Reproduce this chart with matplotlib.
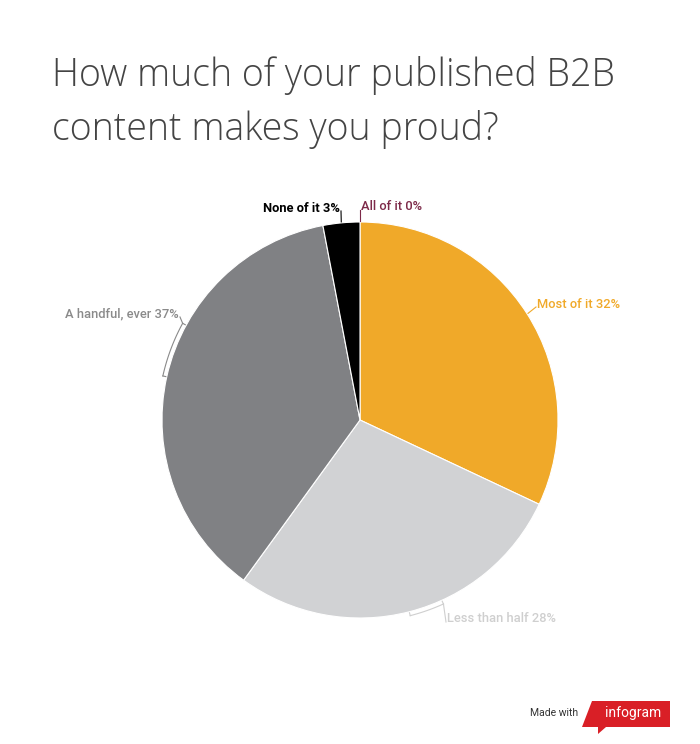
import numpy as np
import matplotlib
matplotlib.use("Agg")
import matplotlib.pyplot as plt
from matplotlib.patches import Polygon

# data (clockwise from 12 o'clock)
labels = ["All of it", "Most of it", "Less than half", "A handful, ever", "None of it"]
values = [0, 32, 28, 37, 3]
colors = ["#7d2a49", "#f0a929", "#d1d2d4", "#808184", "#000000"]
label_colors = ["#7d2a49", "#f0a929", "#cfcfcf", "#8a8a8a", "#000000"]

title = "How much of your published B2B\ncontent makes you proud?"

W, H = 700, 744
fig = plt.figure(figsize=(W / 100, H / 100), dpi=100)
ax = fig.add_axes([0, 0, 1, 1])


def py(y):
    # pixel row -> data y
    return H - y


cx, cy, r = 360, py(420), 198

ax.pie(values, colors=colors, startangle=90, counterclock=False,
       center=(cx, cy), radius=r, frame=True,
       wedgeprops=dict(edgecolor="white", linewidth=0.8))
ax.set_xlim(0, W)
ax.set_ylim(0, H)
ax.axis("off")


def pt(ang, rad):
    # ang: degrees clockwise from top
    a = np.deg2rad(ang)
    return cx + rad * np.sin(a), cy + rad * np.cos(a)


# label leader setup: bracket span (deg), label anchor (px), text alignment
spans = [0, 0, -10, 16, 0]
anchors = [(361, 207), (537, 304), (447, 619), (179, 314), (340, 208)]
aligns = ["left", "left", "left", "right", "right"]
weights = ["medium", "medium", "medium", "medium", "bold"]

total = sum(values)
start = 0.0
for lab, v, lc, sp, (tx, ty), ha, wt in zip(labels, values, label_colors,
                                             spans, anchors, aligns, weights):
    mid = start + 360 * v / total / 2
    start += 360 * v / total
    rb = r + 4
    if sp != 0:
        angs = np.linspace(mid, mid + sp, 30)
        xs, ys = zip(*[pt(a, rb) for a in angs])
        ax.plot(xs, ys, color=lc, lw=0.8)
        for a in (mid, mid + sp):
            p0, p1 = pt(a, r + 1), pt(a, rb)
            ax.plot([p0[0], p1[0]], [p0[1], p1[1]], color=lc, lw=0.8)
        ex, ey = pt(mid + sp, rb)
    else:
        ex, ey = pt(mid, r + 1)
    lx = tx + (-1 if ha == "left" else 1)
    ax.plot([ex, lx], [ey, py(ty) - 3], color=lc, lw=0.8)
    ax.text(tx, py(ty), f"{lab} {v}%", color=lc, ha=ha, va="center",
            fontsize=9.3, family="Roboto", fontweight=wt)

ax.text(52, py(56), title, ha="left", va="top", fontsize=27,
        family="Open Sans", fontweight="light", color="#444444",
        linespacing=1.5)

# made with infogram badge
badge = [(592, 701), (670, 701), (670, 727), (606, 727), (598, 734),
         (598, 727), (582, 727)]
ax.add_patch(Polygon([(x, py(y)) for x, y in badge], closed=True,
                     facecolor="#d91f26", edgecolor="none"))
ax.text(633, py(713), "infogram", color="white", ha="center", va="center",
        fontsize=10, family="Roboto")
ax.text(578, py(713), "Made with", color="#333333", ha="right", va="center",
        fontsize=7.5, family="Roboto")

fig.savefig("out.png", dpi=100, facecolor="white")
